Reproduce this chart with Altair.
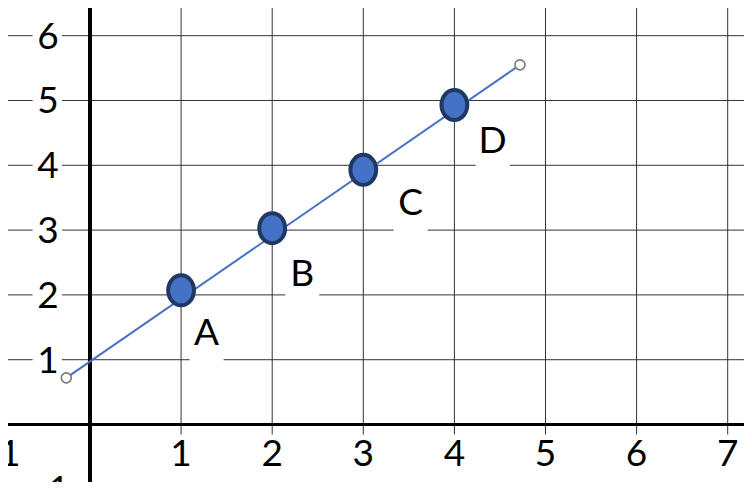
import altair as alt
import pandas as pd

# ---- data ----
point_names = ["A", "B", "C", "D"]
point_x = [1, 2, 3, 4]
point_y = [2.07, 3.03, 3.93, 4.93]
label_x = [1.28, 2.33, 3.52, 4.42]
label_y = [1.43, 2.34, 3.43, 4.39]
line_x = [-0.26, 4.72]
line_y = [0.72, 5.55]
x_ticks = [-1, 1, 2, 3, 4, 5, 6, 7]
x_tick_labels = ["−1", "1", "2", "3", "4", "5", "6", "7"]
y_ticks = [-1, 1, 2, 3, 4, 5, 6]
y_tick_labels = ["−1", "1", "2", "3", "4", "5", "6"]
x_grid = [1, 2, 3, 4, 5, 6, 7]
y_grid = [1, 2, 3, 4, 5, 6]

W, H = 736, 474
FONT = "Lato"
FS = 37

xs = alt.Scale(domain=[-0.90, 7.179], nice=False, zero=False)
ys = alt.Scale(domain=[-0.887, 6.427], nice=False, zero=False)

pts = pd.DataFrame({"x": point_x, "y": point_y, "n": point_names})
labs = pd.DataFrame({"x": label_x, "y": label_y, "n": point_names})
ln = pd.DataFrame({"x": line_x, "y": line_y})
xt = pd.DataFrame({"v": x_ticks, "t": x_tick_labels})
yt = pd.DataFrame({"v": y_ticks, "t": y_tick_labels})
xg = pd.DataFrame({"v": x_grid})
yg = pd.DataFrame({"v": y_grid})

GRID = "#333333"

vgrid = alt.Chart(xg).mark_rule(color=GRID, strokeWidth=1, yOffset=10).encode(
    x=alt.X("v:Q", scale=xs, axis=None),
    y=alt.YDatum(0, scale=ys, axis=None),
    y2=alt.value(0),
)
hgrid = alt.Chart(yg).mark_rule(color=GRID, strokeWidth=1).encode(
    y=alt.Y("v:Q", scale=ys, axis=None),
    x=alt.value(0),
    x2=alt.value(W),
)

# white boxes behind the y tick labels (break the grid lines)
ybox = alt.Chart(yt).mark_point(
    shape="M-4.1,-1.2H-2V1.2H-4.1Z", size=784, filled=True, fill="white",
    opacity=1, strokeWidth=0,
).encode(
    x=alt.XDatum(0, scale=xs, axis=None),
    y=alt.Y("v:Q", scale=ys, axis=None),
)
# white boxes behind the point labels
lbox = alt.Chart(labs).mark_point(
    shape="M-1,-1H1V1.94H-1Z", size=1156, filled=True, fill="white",
    opacity=1, strokeWidth=0,
).encode(
    x=alt.X("x:Q", scale=xs, axis=None),
    y=alt.Y("y:Q", scale=ys, axis=None),
)

xaxis = alt.Chart(xg).mark_rule(color="black", strokeWidth=3).encode(
    y=alt.YDatum(0, scale=ys, axis=None),
    x=alt.value(0),
    x2=alt.value(W),
)
yaxis = alt.Chart(yg).mark_rule(color="black", strokeWidth=3).encode(
    x=alt.XDatum(0, scale=xs, axis=None),
    y=alt.value(0),
    y2=alt.value(H),
)

ytext = alt.Chart(yt).mark_text(
    font=FONT, fontSize=FS, color="black", align="center", baseline="middle",
    dx=-42, dy=2,
).encode(
    x=alt.XDatum(0, scale=xs, axis=None),
    y=alt.Y("v:Q", scale=ys, axis=None),
    text="t:N",
)
xtext = alt.Chart(xt).mark_text(
    font=FONT, fontSize=FS, color="black", align="center", baseline="middle",
    dy=30,
).encode(
    x=alt.X("v:Q", scale=xs, axis=None),
    y=alt.YDatum(0, scale=ys, axis=None),
    text="t:N",
)

line = alt.Chart(ln).mark_line(color="#4472C4", strokeWidth=2).encode(
    x=alt.X("x:Q", scale=xs, axis=None),
    y=alt.Y("y:Q", scale=ys, axis=None),
)
ends = alt.Chart(ln).mark_point(
    shape="circle", size=100, filled=True, fill="white", stroke="#7a7a7a",
    strokeWidth=1.6, opacity=1,
).encode(
    x=alt.X("x:Q", scale=xs, axis=None),
    y=alt.Y("y:Q", scale=ys, axis=None),
)
dots = alt.Chart(pts).mark_point(
    shape="M-0.86,0A0.86,1,0,1,0,0.86,0A0.86,1,0,1,0,-0.86,0Z",
    size=900, filled=True, fill="#4472C4", stroke="#1F3864",
    strokeWidth=4, opacity=1,
).encode(
    x=alt.X("x:Q", scale=xs, axis=None),
    y=alt.Y("y:Q", scale=ys, axis=None),
)
ptext = alt.Chart(labs).mark_text(
    font=FONT, fontSize=FS, color="black", align="center", baseline="middle",
    dy=2,
).encode(
    x=alt.X("x:Q", scale=xs, axis=None),
    y=alt.Y("y:Q", scale=ys, axis=None),
    text="n:N",
)

chart = alt.layer(
    vgrid, hgrid, ybox, lbox, xaxis, yaxis, ytext, xtext, line, ends, dots, ptext
).properties(
    width=W, height=H, autosize=alt.AutoSizeParams(type="none"), padding=0,
    background="white",
).configure_view(stroke=None)

chart.save("out.html", embed_options={"renderer": "svg", "actions": False})
